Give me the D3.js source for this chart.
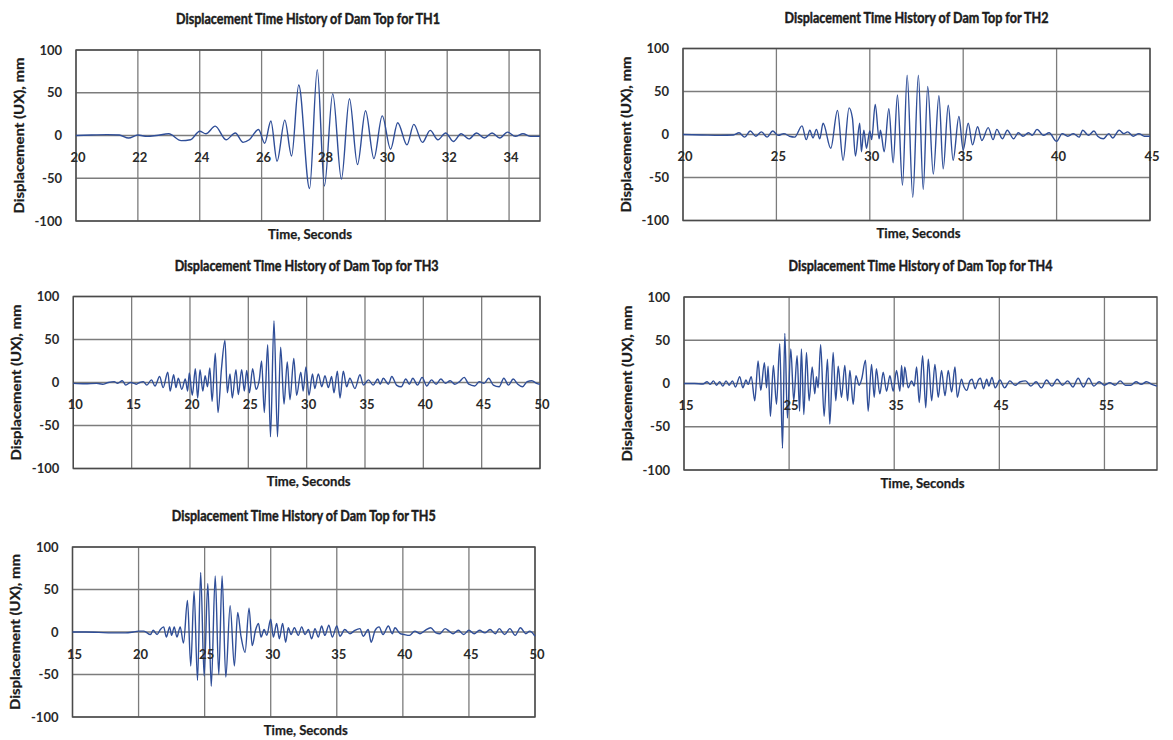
<!doctype html>
<html>
<head>
<meta charset="utf-8">
<title>Displacement Time History of Dam Top</title>
<script src="https://cdn.jsdelivr.net/npm/d3@7"></script>
<style>
  body { margin: 0; background: #fff; }
  svg text { font-family: Lato, "Open Sans", sans-serif; fill: #1c1c1c; }
  .title { font-weight: bold; font-size: 15px; stroke: #1c1c1c; stroke-width: 0.45; }
  .axis-title { font-weight: bold; font-size: 13px; stroke: #1c1c1c; stroke-width: 0.25; }
  .tick-label { font-weight: bold; font-size: 13px; fill: #2a2a2a; }
  .grid line { stroke: #7c7c7c; stroke-width: 1.3; }
  .frame { fill: none; stroke: #4a4a4a; stroke-width: 1.4; }
  .trace { fill: none; stroke: #2f4e98; stroke-width: 1.4; stroke-linejoin: round; }
</style>
</head>
<body>
<svg id="chart" width="1173" height="740"></svg>
<script>
// time (s), displacement (mm): peaks and troughs
var th1 = [[20,0],[20.5,0.5],[21,1],[21.4,0.5],[21.7,-3],[22,0.5],[22.3,-1],[22.6,0],[23,2],[23.4,-6],[23.7,-5],
  [24,5],[24.2,2],[24.5,11],[24.85,-5],[25.15,3],[25.4,-8],[25.6,-5],[25.9,7],[26.1,-9],[26.3,17],[26.5,-30],
  [26.75,18],[26.97,-24],[27.2,59],[27.55,-62],[27.8,77],[28.03,-59],[28.3,49],[28.58,-51],[28.84,43],[29.1,-34],
  [29.36,29],[29.63,-27],[29.9,23],[30.17,-16],[30.4,15],[30.7,-11],[30.92,13],[31.2,-8],[31.45,6],[31.7,-5],
  [31.95,3],[32.2,-7],[32.45,2],[32.7,-4],[32.95,3],[33.2,-3],[33.45,3],[33.7,-3],[33.95,4],[34.2,-1],[34.45,2],
  [34.7,-1],[35,-1]];

var th2 = [[20,0],[21,-0.5],[22,-1],[22.7,-0.5],[23,2],[23.3,-3],[23.6,4],[23.9,-2],[24.2,3],[24.5,-3],[24.8,4],
  [25.1,-1],[25.4,1],[25.7,-2],[25.98,-3],[26.37,10],[26.6,-6],[26.79,5],[26.96,-4],[27.14,6],[27.32,-5],[27.5,13],
  [27.91,-16],[28.27,28],[28.57,-30],[28.89,31],[29.07,19],[29.23,-25],[29.46,13],[29.55,-20],[29.68,5],[29.82,-16],
  [30,4],[30.1,-6],[30.29,35],[30.5,-5],[30.57,5],[30.77,-20],[31.02,30],[31.25,-33],[31.48,46],[31.75,-59],
  [32,69],[32.3,-73],[32.6,69],[32.86,-64],[33.1,56],[33.4,-46],[33.7,45],[33.93,-40],[34.2,34],[34.46,-30],
  [34.77,21],[35,-18],[35.27,13],[35.5,-12],[35.77,9],[36,-7],[36.34,8],[36.6,-6],[36.8,6],[37.1,-5],[37.36,5],
  [37.7,-5],[37.95,2],[38.2,-2],[38.5,2],[38.7,-1],[38.95,6],[39.3,-1],[39.6,2],[40,-8],[40.3,1],[40.6,-2],
  [40.9,1],[41.2,-3],[41.4,5],[41.7,-1],[42,4],[42.2,-2],[42.5,-5],[42.8,1],[43,-4],[43.35,5],[43.6,1],[43.8,3],
  [44.1,-2],[44.4,1],[44.7,-2],[45,-2]];

var th3 = [[10,-1],[11,-1.5],[12,-1],[12.5,-2],[13,0],[13.5,1],[13.8,-1],[14.2,2],[14.5,-3],[14.9,0],[15.2,-1],
  [15.4,-2],[15.7,0],[16,1],[16.3,-3],[16.7,3],[17,-4],[17.4,7],[17.7,-6],[18.1,12],[18.3,-10],[18.6,9],[18.8,-6],
  [19,5],[19.3,-8],[19.6,4],[19.8,-10],[19.94,11],[20.2,-15],[20.46,16],[20.66,-18],[20.86,15],[21.1,-10],[21.3,8],
  [21.5,-5],[21.7,17],[21.9,-22],[22.17,34],[22.4,-35],[22.7,16],[23,49],[23.2,-12],[23.43,10],[23.63,-18],
  [23.94,15],[24.14,-14],[24.43,15],[24.66,-10],[24.86,14],[25.1,-12],[25.37,16],[25.66,-8],[25.94,3],[26.14,25],
  [26.37,-35],[26.66,44],[26.9,-63],[27.2,72],[27.5,-63],[27.77,41],[28.06,-25],[28.34,24],[28.57,-20],[28.9,28],
  [29.14,-15],[29.5,12],[29.7,-10],[29.94,18],[30.2,-15],[30.5,10],[30.7,-7],[31,10],[31.3,-5],[31.57,8],
  [31.86,-6],[32.14,7],[32.34,-12],[32.63,13],[32.86,-18],[33.14,13],[33.43,-5],[33.7,5],[34.14,-7],[34.57,9],
  [34.86,-3],[35.3,3],[35.7,-3],[36.1,4],[36.3,-2],[36.57,5],[37,-2],[37.3,7],[37.7,-3],[38.1,-5],[38.5,4],
  [38.8,-2],[39.1,5],[39.5,-3],[39.9,6],[40.3,-4],[40.7,3],[41.1,-2],[41.5,4],[41.9,-1],[42.3,2],[42.7,-2],
  [43.1,1],[43.5,6],[43.9,-2],[44.4,-4],[44.8,1],[45.2,-1],[45.6,5],[46,-3],[46.5,-5],[46.9,5],[47.3,-3],
  [47.7,4],[48.1,-2],[48.5,-5],[48.9,1],[49.3,2],[49.7,-1],[50,-2]];

var th4 = [[15,0],[16,0],[16.8,-0.5],[17.2,2],[17.5,-1],[17.8,3],[18.1,-2],[18.4,2],[18.7,-3],[19,3],[19.3,-2],
  [19.6,3],[19.9,-4],[20.3,8],[20.6,-5],[20.9,4],[21.1,-1],[21.4,8],[21.73,-20],[22.05,26],[22.3,-8],[22.65,24],
  [22.85,-5],[23,20],[23.22,-38],[23.5,21],[23.8,-24],[24.11,46],[24.37,-75],[24.59,58],[24.84,-40],[25.16,40],
  [25.44,-20],[25.76,32],[26,-32],[26.17,40],[26.4,-36],[26.65,36],[26.9,-20],[27.2,19],[27.44,-12],[27.6,8],
  [27.76,-5],[28,45],[28.33,-38],[28.65,28],[28.87,-47],[29.19,36],[29.44,-20],[29.67,20],[29.98,-16],[30.3,21],
  [30.56,-20],[30.78,15],[31.1,-24],[31.35,9],[31.67,-2],[31.9,5],[32.27,27],[32.52,-32],[32.84,22],[33.1,-16],
  [33.3,17],[33.63,-12],[33.95,13],[34.27,-9],[34.59,9],[34.9,-9],[35.22,15],[35.54,-9],[35.7,21],[35.85,-4],
  [36,19],[36.33,-5],[36.65,3],[36.9,-3],[37.13,19],[37.38,-22],[37.7,32],[38,-28],[38.24,28],[38.56,-20],
  [38.87,22],[39.19,-16],[39.5,15],[39.83,-14],[40.14,15],[40.46,-10],[40.78,19],[41,-16],[41.4,5],[41.6,-3],
  [41.9,-8],[42.2,3],[42.4,5],[42.7,-6],[43,4],[43.2,6],[43.5,-6],[43.8,5],[44,-3],[44.3,7],[44.6,-5],[45.06,4],
  [45.5,-5],[46,3],[46.5,-2],[47,2],[47.5,3],[48,-3],[48.5,2],[49,-5],[49.5,4],[50,-3],[50.5,5],[51,-2],[51.5,3],
  [52,-4],[52.5,6],[53,-4],[53.5,6],[54,-3],[54.5,2],[55,-2],[55.5,1],[56,-2],[56.5,3],[57,-2],[57.5,-2],[58,2],
  [58.5,-1],[59,2],[59.5,-1],[60,-3]];

var th5 = [[15,0],[16,0],[17,-0.5],[18,-1],[19,-1],[19.6,0],[20,1],[20.4,1],[20.9,-3],[21.1,2],[21.4,-3],[21.65,3],
  [21.9,6],[22.1,-6],[22.35,6],[22.5,-4],[22.7,6],[22.9,-6],[23.15,6],[23.4,-13],[23.7,37],[23.95,-40],[24.2,48],
  [24.46,-57],[24.7,70],[24.96,-52],[25.24,57],[25.5,-64],[25.8,66],[26.07,-50],[26.32,66],[26.6,-53],[26.93,31],
  [27.25,-40],[27.5,23],[27.75,-5],[28.06,-24],[28.36,28],[28.6,-16],[28.85,2],[29.07,10],[29.27,-6],[29.5,3],
  [29.7,-4],[30,15],[30.2,-6],[30.45,10],[30.65,-8],[30.9,10],[31.13,-12],[31.33,5],[31.54,-3],[31.79,5],
  [32.09,-4],[32.34,6],[32.6,-3],[32.85,3],[33.1,-8],[33.35,4],[33.6,-6],[33.85,7],[34.1,-4],[34.4,8],[34.66,-6],
  [35,7],[35.24,-5],[35.6,3],[36,-2],[36.37,2],[36.75,4],[37,-5],[37.38,3],[37.6,-12],[37.9,2],[38.2,6],[38.5,-3],
  [38.9,7],[39.2,-2],[39.4,5],[39.8,-2],[40.1,-3],[40.5,-4],[40.9,1],[41.3,-2],[41.7,2],[42.1,5],[42.5,-1],
  [42.8,-2],[43.2,4],[43.5,1],[43.8,-2],[44.2,2],[44.6,-3],[45,2],[45.4,-2],[45.8,2],[46.2,-1],[46.6,3],[47,-2],
  [47.3,4],[47.7,-3],[48.1,4],[48.5,-4],[48.9,5],[49.3,-2],[49.6,1],[50,-5]];

var th1Ticks = [20, 22, 24, 26, 28, 30, 32, 34];
var th2Ticks = [20, 25, 30, 35, 40, 45];
var th3Ticks = [10, 15, 20, 25, 30, 35, 40, 45, 50];
var th4Ticks = [15, 25, 35, 45, 55];
var th5Ticks = [15, 20, 25, 30, 35, 40, 45, 50];
var yTicks = [-100, -50, 0, 50, 100];

var panels = [
  {name: "TH1", data: th1, domain: [20, 35], ticks: th1Ticks, left: 76,  right: 540,  top: 50, bottom: 221},
  {name: "TH2", data: th2, domain: [20, 45], ticks: th2Ticks, left: 683, right: 1150, top: 48.5, bottom: 220.5},
  {name: "TH3", data: th3, domain: [10, 50], ticks: th3Ticks, left: 73.3, right: 540, top: 296.5, bottom: 468.5},
  {name: "TH4", data: th4, domain: [15, 60], ticks: th4Ticks, left: 684, right: 1157, top: 297, bottom: 470},
  {name: "TH5", data: th5, domain: [15, 50], ticks: th5Ticks, left: 72.5, right: 535, top: 547, bottom: 717}
];

var svg = d3.select("#chart");

panels.forEach(function(p) {
  var x = d3.scaleLinear().domain(p.domain).range([p.left, p.right]);
  var y = d3.scaleLinear().domain([-100, 100]).range([p.bottom, p.top]);
  var g = svg.append("g").attr("class", "panel");
  var cx = (p.left + p.right) / 2;

  var grid = g.append("g").attr("class", "grid");
  grid.selectAll("line.h").data(yTicks).enter().append("line")
      .attr("x1", p.left).attr("x2", p.right)
      .attr("y1", function(d) { return y(d); }).attr("y2", function(d) { return y(d); });
  grid.selectAll("line.v").data(p.ticks).enter().append("line")
      .attr("y1", p.top).attr("y2", p.bottom)
      .attr("x1", function(d) { return x(d); }).attr("x2", function(d) { return x(d); });

  g.append("rect").attr("class", "frame")
      .attr("x", p.left).attr("y", p.top)
      .attr("width", p.right - p.left).attr("height", p.bottom - p.top);

  var line = d3.line()
      .x(function(d) { return x(d[0]); })
      .y(function(d) { return y(d[1]); })
      .curve(d3.curveMonotoneX);
  g.append("path").attr("class", "trace").attr("d", line(p.data));

  // y tick labels
  g.selectAll("text.ytick").data(yTicks).enter().append("text")
      .attr("class", "tick-label")
      .attr("x", p.left - 14)
      .attr("y", function(d) { return y(d); })
      .attr("dy", "0.35em")
      .attr("text-anchor", "end")
      .text(function(d) { return d; });

  // x tick labels sit under the zero line
  g.selectAll("text.xtick").data(p.ticks).enter().append("text")
      .attr("class", "tick-label")
      .attr("x", function(d) { return x(d) + 2; })
      .attr("y", y(0) + 22)
      .attr("dy", "0.35em")
      .attr("text-anchor", "middle")
      .text(function(d) { return d; });

  g.append("text").attr("class", "title")
      .attr("x", cx).attr("y", p.top - 31).attr("dy", "0.35em")
      .attr("text-anchor", "middle")
      .attr("textLength", 264).attr("lengthAdjust", "spacingAndGlyphs")
      .text("Displacement Time History of Dam Top for " + p.name);

  g.append("text").attr("class", "axis-title")
      .attr("x", cx + 2).attr("y", p.bottom + 13).attr("dy", "0.35em")
      .attr("text-anchor", "middle")
      .attr("textLength", 84).attr("lengthAdjust", "spacingAndGlyphs")
      .text("Time, Seconds");

  g.append("text").attr("class", "axis-title")
      .attr("transform", "translate(" + (p.left - 57) + "," + ((p.top + p.bottom) / 2) + ") rotate(-90)")
      .attr("dy", "0.35em")
      .attr("text-anchor", "middle")
      .attr("textLength", 156).attr("lengthAdjust", "spacingAndGlyphs")
      .text("Displacement (UX), mm");
});
</script>
</body>
</html>
